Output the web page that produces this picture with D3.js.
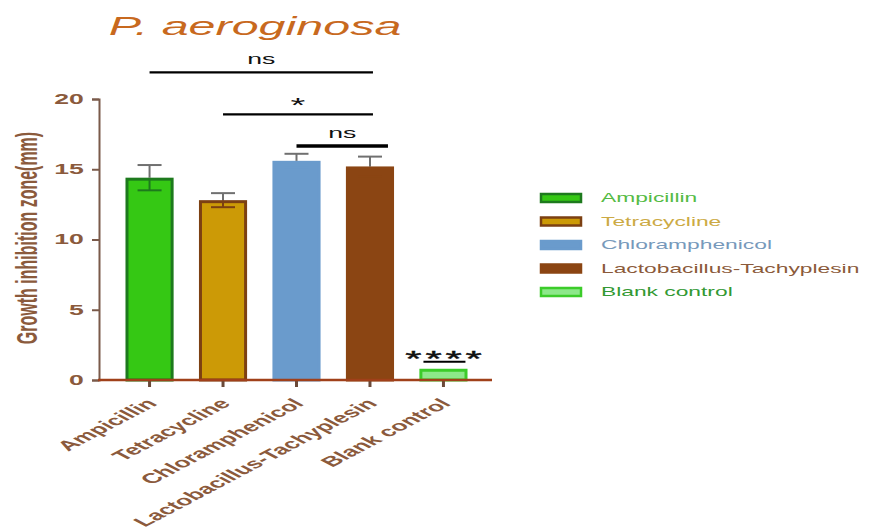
<!DOCTYPE html>
<html>
<head>
<meta charset="utf-8">
<script src="https://cdn.jsdelivr.net/npm/d3@7"></script>
<style>
  html, body { margin: 0; padding: 0; background: #ffffff; }
  svg { display: block; }
</style>
</head>
<body>
<svg id="chart" width="877" height="531"></svg>
<script>
// Growth inhibition zone (mm) against P. aeroginosa
const groups = ["Ampicillin", "Tetracycline", "Chloramphenicol", "Lactobacillus-Tachyplesin", "Blank control"];
const means = [14.4, 12.8, 15.6, 15.2, 0.8];
const errors = [0.9, 0.5, 0.5, 0.7, 0.05];
const yTicks = [0, 5, 10, 15, 20];

// significance brackets: [from group, to group, label, bracket height in mm]
const compFrom = [0, 1, 2];
const compTo = [3, 3, 3];
const compLabel = ["ns", "*", "ns"];
const compLevel = [21.9, 18.9, 16.65];
const blankLabel = "****";
const blankLevel = 1.3;

const fills = ["#35c814", "#cc9a06", "#6a9bcc", "#8b4513", "#8de88a"];
const strokes = ["#1d7a1d", "#7c4012", "#6a9bcc", "#8b4513", "#3ccc2a"];
const legendText = ["#55bb44", "#ccaa44", "#7799bb", "#8b5a3a", "#339933"];

const SX = 1.9; // horizontal text stretch
const brown = "#8b5a3c";
const axisBrown = "#7a5a4a";

const svg = d3.select("#chart");

const y = d3.scaleLinear().domain([0, 20]).range([380, 99]);
const x = d3.scaleBand().domain(groups).range([113, 480]).paddingInner(0.345).paddingOuter(0.17);

// title
svg.append("text")
  .attr("transform", `translate(255,35) scale(${SX},1)`)
  .attr("text-anchor", "middle")
  .attr("font-family", "Liberation Sans, Arial, sans-serif")
  .attr("font-style", "italic")
  .attr("font-size", 25.5)
  .attr("fill", "#c8691e")
  .text("P. aeroginosa");

// y axis
const yAxis = svg.append("g")
  .attr("transform", "translate(99,0)")
  .call(d3.axisLeft(y).tickValues(yTicks).tickSize(7).tickPadding(2));
yAxis.select(".domain").attr("stroke", axisBrown).attr("stroke-width", 2);
yAxis.selectAll(".tick line").attr("stroke", axisBrown).attr("stroke-width", 2);
yAxis.selectAll(".tick text")
  .attr("transform", `scale(${SX},1)`)
  .attr("x", -8)
  .attr("font-family", "Liberation Sans, Arial, sans-serif")
  .attr("font-weight", "bold")
  .attr("font-size", 14)
  .attr("fill", brown);

// y axis title
svg.append("text")
  .attr("transform", `translate(37,238) scale(${SX},1) rotate(-90)`)
  .attr("text-anchor", "middle")
  .attr("font-family", "Liberation Sans, Arial, sans-serif")
  .attr("font-weight", "bold")
  .attr("font-size", 16)
  .attr("fill", brown)
  .text("Growth inhibition zone(mm)");

// bars
svg.append("g").selectAll("rect")
  .data(groups)
  .join("rect")
  .attr("x", d => x(d) + 1.5)
  .attr("width", x.bandwidth() - 3)
  .attr("y", (d, i) => y(means[i]) + 1.5)
  .attr("height", (d, i) => y(0) - y(means[i]) - 1.5)
  .attr("fill", (d, i) => fills[i])
  .attr("stroke", (d, i) => strokes[i])
  .attr("stroke-width", 3);

// error bars: lower arm in the bar's outline colour, upper arm in grey
const errG = svg.append("g");
groups.forEach((d, i) => {
  const cx = x(d) + x.bandwidth() / 2;
  if (i === 4) return;
  errG.append("line")
    .attr("x1", cx).attr("x2", cx)
    .attr("y1", y(means[i])).attr("y2", y(means[i] - errors[i]))
    .attr("stroke", strokes[i]).attr("stroke-width", 2);
  errG.append("line")
    .attr("x1", cx - 12).attr("x2", cx + 12)
    .attr("y1", y(means[i] - errors[i])).attr("y2", y(means[i] - errors[i]))
    .attr("stroke", strokes[i]).attr("stroke-width", 2);
  errG.append("line")
    .attr("x1", cx).attr("x2", cx)
    .attr("y1", y(means[i])).attr("y2", y(means[i] + errors[i]))
    .attr("stroke", "#707070").attr("stroke-width", 2);
  errG.append("line")
    .attr("x1", cx - 12).attr("x2", cx + 12)
    .attr("y1", y(means[i] + errors[i])).attr("y2", y(means[i] + errors[i]))
    .attr("stroke", "#707070").attr("stroke-width", 2);
});

// x axis
const xAxis = svg.append("g")
  .attr("transform", "translate(0,380)")
  .call(d3.axisBottom(x).tickSize(7).tickSizeOuter(0));
xAxis.select(".domain").remove();
xAxis.selectAll(".tick line").attr("stroke", "#6a4a3a").attr("stroke-width", 3);
xAxis.selectAll(".tick text")
  .attr("x", 0).attr("y", 0).attr("dy", "0.35em")
  .attr("transform", `translate(2,21) scale(${SX},1) rotate(-45)`)
  .attr("text-anchor", "end")
  .attr("font-family", "Liberation Sans, Arial, sans-serif")
  .attr("font-weight", "bold")
  .attr("font-size", 14)
  .attr("fill", brown);
svg.append("line")
  .attr("x1", 98).attr("x2", 492)
  .attr("y1", 380).attr("y2", 380)
  .attr("stroke", "#a0401a").attr("stroke-width", 2.5);

// significance brackets
const sig = svg.append("g");
compFrom.forEach((f, k) => {
  const x1 = x(groups[f]) + x.bandwidth() / 2;
  const x2 = x(groups[compTo[k]]) + x.bandwidth() / 2 + (k === 2 ? 18 : 3);
  const yy = y(compLevel[k]);
  sig.append("line")
    .attr("x1", x1).attr("x2", x2).attr("y1", yy).attr("y2", yy)
    .attr("stroke", "#000").attr("stroke-width", k === 2 ? 3.5 : 2.2);
  sig.append("text")
    .attr("transform", `translate(${(x1 + x2) / 2},${yy - (compLabel[k] === "*" ? 2 : 8)}) scale(${SX},1)`)
    .attr("text-anchor", "middle")
    .attr("font-family", "Liberation Sans, Arial, sans-serif")
    .attr("font-size", compLabel[k] === "*" ? 20 : 14)
    .attr("fill", "#111")
    .text(compLabel[k]);
});
{
  const cx = x(groups[4]) + x.bandwidth() / 2;
  const yy = y(blankLevel);
  sig.append("line")
    .attr("x1", cx - 20).attr("x2", cx + 22).attr("y1", yy).attr("y2", yy)
    .attr("stroke", "#000").attr("stroke-width", 2.2);
  sig.append("text")
    .attr("transform", `translate(${cx + 2},${yy + 4}) scale(${SX},1)`)
    .attr("text-anchor", "middle")
    .attr("font-family", "Liberation Sans, Arial, sans-serif")
    .attr("font-size", 22)
    .attr("letter-spacing", 2)
    .attr("fill", "#111")
    .attr("stroke", "#111")
    .attr("stroke-width", 0.4)
    .text(blankLabel);
}

// legend
const legend = svg.append("g").attr("transform", "translate(541,198)");
groups.forEach((g, i) => {
  const row = legend.append("g").attr("transform", `translate(0,${i * 23.5})`);
  row.append("rect")
    .attr("x", 0).attr("y", -4).attr("width", 40).attr("height", 8)
    .attr("fill", fills[i])
    .attr("stroke", strokes[i]).attr("stroke-width", 2.5);
  row.append("text")
    .attr("transform", `translate(60,0) scale(${SX},1)`)
    .attr("dy", "0.36em")
    .attr("font-family", "Liberation Sans, Arial, sans-serif")
    .attr("font-size", 12)
    .attr("fill", legendText[i])
    .text(g);
});
</script>
</body>
</html>
